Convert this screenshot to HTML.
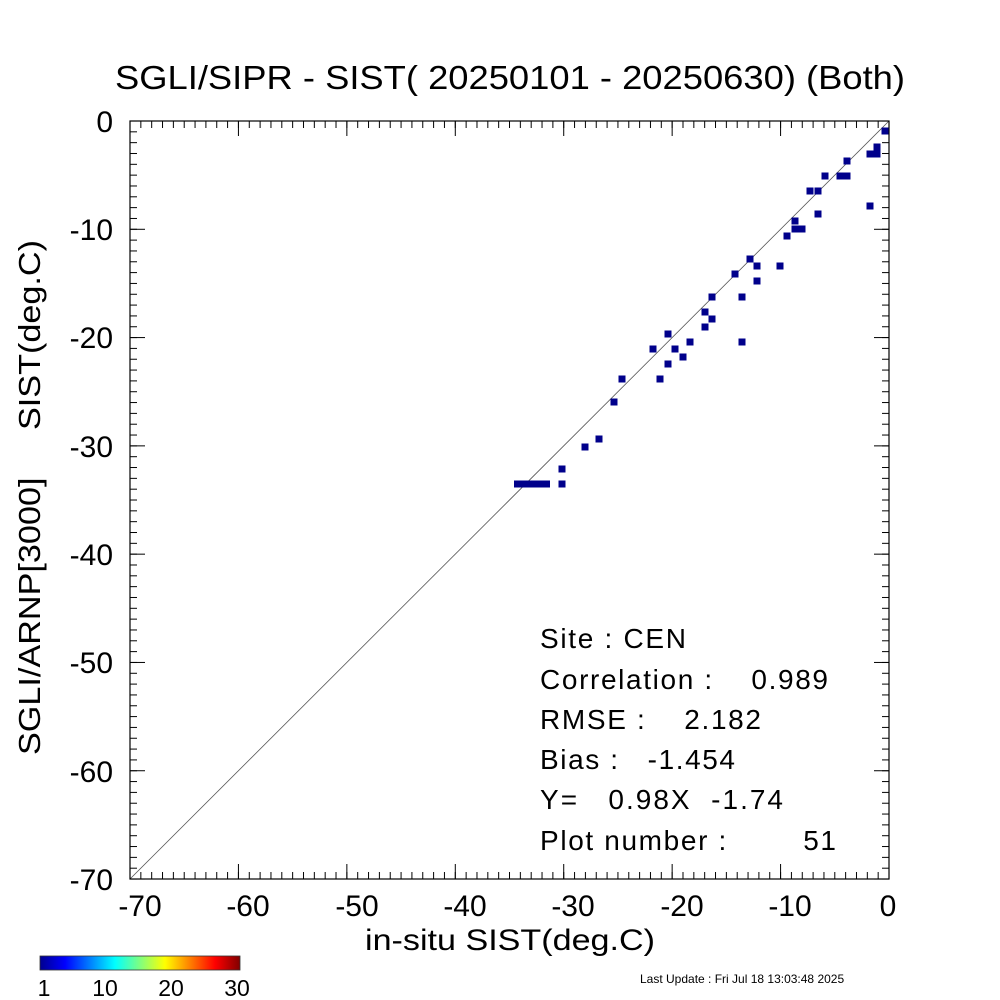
<!DOCTYPE html>
<html><head><style>body{margin:0;background:#fff}svg{display:block}text{white-space:pre}</style></head><body>
<svg width="1000" height="1000" xmlns="http://www.w3.org/2000/svg" font-family="Liberation Sans, sans-serif" xml:space="preserve">
<defs>
<linearGradient id="jet" x1="0" x2="1" y1="0" y2="0">
<stop offset="0" stop-color="#00008f"/><stop offset="0.125" stop-color="#0000ff"/><stop offset="0.375" stop-color="#00ffff"/><stop offset="0.625" stop-color="#ffff00"/><stop offset="0.875" stop-color="#ff0000"/><stop offset="1" stop-color="#800000"/></linearGradient>
<pattern id="hm" patternUnits="userSpaceOnUse" x="129.5" y="0" width="10.843" height="20"><rect x="0" y="0" width="1" height="20" fill="#000"/></pattern>
<pattern id="hM" patternUnits="userSpaceOnUse" x="129.5" y="0" width="108.43" height="20"><rect x="0" y="0" width="1" height="20" fill="#000"/></pattern>
<pattern id="vm" patternUnits="userSpaceOnUse" x="0" y="120.5" width="20" height="10.829"><rect x="0" y="0" width="20" height="1" fill="#000"/></pattern>
<pattern id="vM" patternUnits="userSpaceOnUse" x="0" y="120.5" width="20" height="108.29"><rect x="0" y="0" width="20" height="1" fill="#000"/></pattern>
</defs>
<rect width="1000" height="1000" fill="#fff"/>
<text x="115" y="89" font-size="33" textLength="790" lengthAdjust="spacingAndGlyphs">SGLI/SIPR - SIST( 20250101 - 20250630) (Both)</text>
<line x1="130" y1="879" x2="889" y2="121" stroke="#555" stroke-width="0.8"/>
<rect x="130" y="872" width="760" height="7" fill="url(#hm)"/>
<rect x="130" y="864" width="760" height="15" fill="url(#hM)"/>
<rect x="130" y="121" width="760" height="7" fill="url(#hm)"/>
<rect x="130" y="121" width="760" height="15" fill="url(#hM)"/>
<rect x="130" y="121" width="7" height="759" fill="url(#vm)"/>
<rect x="130" y="121" width="15" height="759" fill="url(#vM)"/>
<rect x="882" y="121" width="7" height="759" fill="url(#vm)"/>
<rect x="874" y="121" width="15" height="759" fill="url(#vM)"/>
<rect x="130" y="121" width="759" height="758" fill="none" stroke="#000" stroke-width="1.2"/>
<g fill="#00008b">
<rect x="881.5" y="127.5" width="7" height="7"/><rect x="873.5" y="143.5" width="7" height="7"/><rect x="866.5" y="150.5" width="7" height="7"/><rect x="873.5" y="150.5" width="7" height="7"/><rect x="843.5" y="157.5" width="7" height="7"/><rect x="821.5" y="172.5" width="7" height="7"/><rect x="836.5" y="172.5" width="7" height="7"/><rect x="843.5" y="172.5" width="7" height="7"/><rect x="806.5" y="187.5" width="7" height="7"/><rect x="814.5" y="187.5" width="7" height="7"/><rect x="866.5" y="202.5" width="7" height="7"/><rect x="814.5" y="210.5" width="7" height="7"/><rect x="791.5" y="217.5" width="7" height="7"/><rect x="791.5" y="225.5" width="7" height="7"/><rect x="798.5" y="225.5" width="7" height="7"/><rect x="783.5" y="232.5" width="7" height="7"/><rect x="746.5" y="255.5" width="7" height="7"/><rect x="753.5" y="262.5" width="7" height="7"/><rect x="776.5" y="262.5" width="7" height="7"/><rect x="731.5" y="270.5" width="7" height="7"/><rect x="753.5" y="277.5" width="7" height="7"/><rect x="708.5" y="293.5" width="7" height="7"/><rect x="738.5" y="293.5" width="7" height="7"/><rect x="701.5" y="308.5" width="7" height="7"/><rect x="708.5" y="315.5" width="7" height="7"/><rect x="701.5" y="323.5" width="7" height="7"/><rect x="664.5" y="330.5" width="7" height="7"/><rect x="686.5" y="338.5" width="7" height="7"/><rect x="738.5" y="338.5" width="7" height="7"/><rect x="649.5" y="345.5" width="7" height="7"/><rect x="671.5" y="345.5" width="7" height="7"/><rect x="679.5" y="353.5" width="7" height="7"/><rect x="664.5" y="360.5" width="7" height="7"/><rect x="618.5" y="375.5" width="7" height="7"/><rect x="656.5" y="375.5" width="7" height="7"/><rect x="610.5" y="398.5" width="7" height="7"/><rect x="595.5" y="435.5" width="7" height="7"/><rect x="581.5" y="443.5" width="7" height="7"/><rect x="558.5" y="465.5" width="7" height="7"/><rect x="558.5" y="480.5" width="7" height="7"/><rect x="514" y="480.5" width="36" height="7"/>
</g>
<g font-size="30" text-anchor="end">
<text x="113" y="132">0</text><text x="113" y="240">-10</text><text x="113" y="348">-20</text><text x="113" y="457">-30</text><text x="113" y="565">-40</text><text x="113" y="673">-50</text><text x="113" y="782">-60</text><text x="113" y="890">-70</text></g>
<g font-size="30" text-anchor="middle">
<text x="140" y="916">-70</text><text x="248" y="916">-60</text><text x="357" y="916">-50</text><text x="465" y="916">-40</text><text x="573" y="916">-30</text><text x="682" y="916">-20</text><text x="790" y="916">-10</text><text x="888" y="916">0</text></g>
<text x="365" y="950" font-size="30" textLength="290" lengthAdjust="spacingAndGlyphs">in-situ SIST(deg.C)</text>
<text transform="translate(40,755) rotate(-90)" font-size="31" textLength="515" lengthAdjust="spacingAndGlyphs">SGLI/ARNP[3000]     SIST(deg.C)</text>
<g font-size="28" lengthAdjust="spacingAndGlyphs">
<text x="540" y="648" textLength="146">Site : CEN</text>
<text x="540" y="689" textLength="288">Correlation :    0.989</text>
<text x="540" y="729" textLength="221">RMSE :    2.182</text>
<text x="540" y="769" textLength="195">Bias :   -1.454</text>
<text x="540" y="809" textLength="243">Y=   0.98X  -1.74</text>
<text x="540" y="850" textLength="296">Plot number :        51</text></g>
<rect x="40" y="956" width="200" height="14" fill="url(#jet)" stroke="#333" stroke-width="0.8"/>
<g font-size="23" text-anchor="middle"><text x="44" y="996">1</text><text x="105" y="996">10</text><text x="171" y="996">20</text><text x="237" y="996">30</text></g>
<text x="640" y="983" font-size="12">Last Update : Fri Jul 18 13:03:48 2025</text>
</svg></body></html>
